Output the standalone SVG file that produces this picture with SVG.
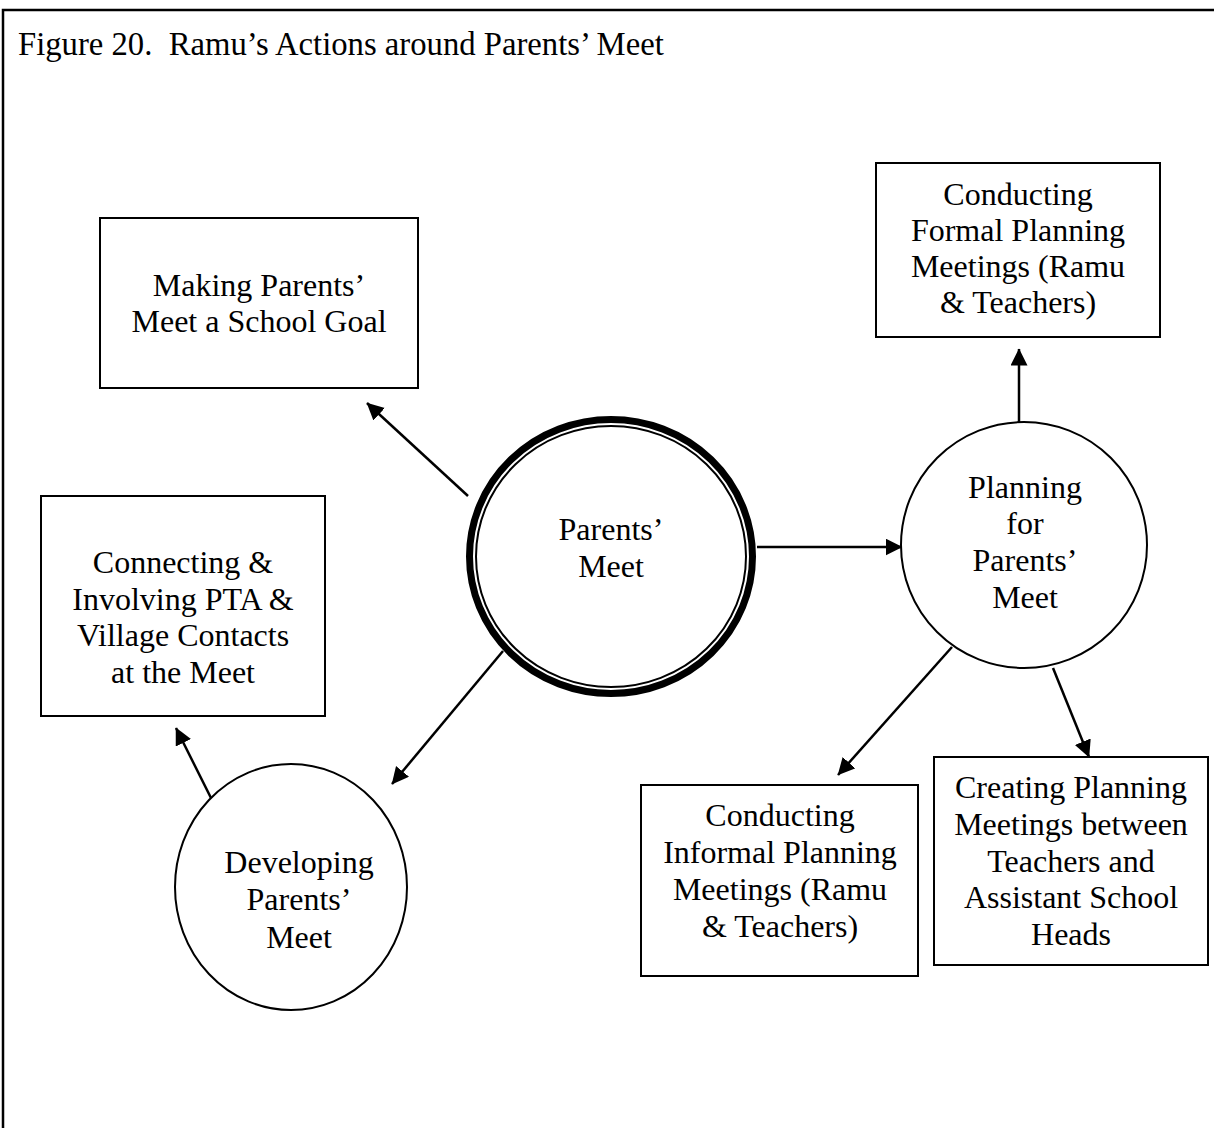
<svg xmlns="http://www.w3.org/2000/svg" width="1214" height="1128" viewBox="0 0 1214 1128">
  <style>
    .frame { fill: none; stroke: #000; stroke-width: 2.5; }
    .box { fill: #fff; stroke: #000; stroke-width: 2; }
    .oval { fill: #fff; stroke: #000; stroke-width: 2; }
    .edge { stroke: #000; stroke-width: 2.5; fill: none; marker-end: url(#head); }
    text { font-family: "Liberation Serif", "Times New Roman", serif; font-size: 32px; fill: #000; }
    .lbl { text-anchor: middle; }
    .title { font-size: 32.7px; }
  </style>
  <defs>
    <marker id="head" markerUnits="userSpaceOnUse" markerWidth="18" markerHeight="18" viewBox="0 0 18 18" refX="16.5" refY="8.5" orient="auto">
      <path d="M0,0 L17,8.5 L0,17 Z" fill="#000"/>
    </marker>
  </defs>

  <rect width="1214" height="1128" fill="#fff"/>
  <!-- outer figure frame -->
  <path class="frame" d="M3,1128 V10 H1214"/>

  <text class="title" x="18" y="55" xml:space="preserve">Figure 20.  Ramu’s Actions around Parents’ Meet</text>

  <g id="connectors">
    <line class="edge" x1="468" y1="496" x2="367" y2="403"/>
    <line class="edge" x1="757" y1="547" x2="902" y2="547"/>
    <line class="edge" x1="503" y1="651" x2="392" y2="784"/>
    <line class="edge" x1="214" y1="804" x2="176" y2="728"/>
    <line class="edge" x1="1019" y1="422" x2="1019" y2="349"/>
    <line class="edge" x1="952" y1="647" x2="838" y2="775"/>
    <line class="edge" x1="1053" y1="668" x2="1089" y2="757"/>
  </g>

  <g id="making-goal">
    <rect class="box" x="100" y="218" width="318" height="170"/>
    <text class="lbl"><tspan x="259" y="296">Making Parents’</tspan><tspan x="259" y="332">Meet a School Goal</tspan></text>
  </g>

  <g id="formal-planning">
    <rect class="box" x="876" y="163" width="284" height="174"/>
    <text class="lbl"><tspan x="1018" y="205">Conducting</tspan><tspan x="1018" y="241">Formal Planning</tspan><tspan x="1018" y="277">Meetings (Ramu</tspan><tspan x="1018" y="313">&amp; Teachers)</tspan></text>
  </g>

  <g id="connecting-pta">
    <rect class="box" x="41" y="496" width="284" height="220"/>
    <text class="lbl"><tspan x="183" y="573">Connecting &amp;</tspan><tspan x="183" y="610">Involving PTA &amp;</tspan><tspan x="183" y="646">Village Contacts</tspan><tspan x="183" y="683">at the Meet</tspan></text>
  </g>

  <g id="parents-meet">
    <ellipse cx="611" cy="556.5" rx="141.5" ry="137" fill="#fff" stroke="#000" stroke-width="7"/>
    <ellipse cx="611" cy="556.5" rx="135" ry="130.5" fill="none" stroke="#000" stroke-width="2"/>
    <text class="lbl"><tspan x="611" y="540">Parents’</tspan><tspan x="611" y="577">Meet</tspan></text>
  </g>

  <g id="planning">
    <ellipse class="oval" cx="1024" cy="545" rx="123" ry="123"/>
    <text class="lbl"><tspan x="1025" y="498">Planning</tspan><tspan x="1025" y="534">for</tspan><tspan x="1025" y="571">Parents’</tspan><tspan x="1025" y="608">Meet</tspan></text>
  </g>

  <g id="developing">
    <ellipse class="oval" cx="291" cy="887" rx="116" ry="123"/>
    <text class="lbl"><tspan x="299" y="873">Developing</tspan><tspan x="299" y="910">Parents’</tspan><tspan x="299" y="948">Meet</tspan></text>
  </g>

  <g id="informal-planning">
    <rect class="box" x="641" y="785" width="277" height="191"/>
    <text class="lbl"><tspan x="780" y="826">Conducting</tspan><tspan x="780" y="863">Informal Planning</tspan><tspan x="780" y="900">Meetings (Ramu</tspan><tspan x="780" y="937">&amp; Teachers)</tspan></text>
  </g>

  <g id="creating-planning">
    <rect class="box" x="934" y="757" width="274" height="208"/>
    <text class="lbl"><tspan x="1071" y="798">Creating Planning</tspan><tspan x="1071" y="835">Meetings between</tspan><tspan x="1071" y="872">Teachers and</tspan><tspan x="1071" y="908">Assistant School</tspan><tspan x="1071" y="945">Heads</tspan></text>
  </g>
</svg>
